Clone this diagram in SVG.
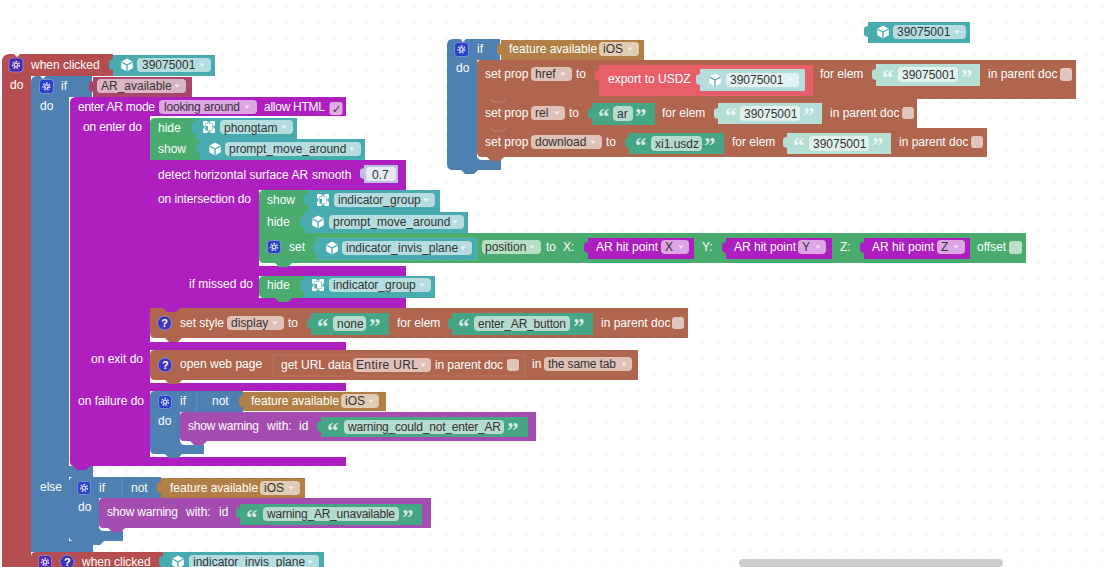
<svg xmlns="http://www.w3.org/2000/svg" width="1116" height="567" viewBox="0 0 1116 567">
<style>
text{font-family:"Liberation Sans",Arial,sans-serif;font-size:12px;fill:#fff}
text.d{fill:#333}
text.q{font-family:"Liberation Serif",serif;font-size:23px;font-weight:bold;fill:#fff;fill-opacity:.78;transform:translate(-1px,1px)}
text.ql{font-family:"Liberation Serif",serif;font-size:23px;font-weight:bold;fill:#fff;fill-opacity:.8;transform:translate(-1px,1px)}
text.qm{font-size:11px;font-weight:bold}
.red{fill:#b54e50}.teal{fill:#47abaf}.mag{fill:#a8466c}.blue{fill:#4e80b2}.pur{fill:#ad20bf}.grn{fill:#49ac6e}
.brn{fill:#b0654f}.gold{fill:#b27f46}.str{fill:#46a585}.lstr{fill:#b5dfd4}.lteal{fill:#b7dcdd}.warn{fill:#a44cb0}.exp{fill:#e85f69}.hit{fill:#ad20bf}
.f{fill:#fff;fill-opacity:.6}
.c{fill:#fff;fill-opacity:.62}
.a{fill:#fff;fill-opacity:.7}
.e{stroke:#fff;stroke-opacity:.1;stroke-width:1}
.wb{fill:#fff}
.gb{fill:#2a43c4;stroke:#8f97ea;stroke-width:.8}
.gp{fill:#4a2bab;stroke:#9a86dc;stroke-width:.8}
.qb{fill:#3d35b5;stroke:#9a94e0;stroke-width:.8}
</style>
<defs>
<pattern id="dots" width="16" height="16" patternUnits="userSpaceOnUse" x="5.7" y="-0.7"><circle cx="8" cy="8" r="0.8" fill="#d2d2d2"/></pattern>
<path id="tab" d="M1 0.500c-3-1-5 .5-5 2.500v5c0 2 2 3.500 5 2.500z"/>
<path id="nt" d="M0 0l4 4h9l4-4z"/>
<path id="ar" d="M-2.500-1.500h5l-2.500 3.500z"/>
<g id="gear"><circle r="1.800" fill="none" stroke="#dfe0fa" stroke-width="1.300"/><circle r="3.500" fill="none" stroke="#dfe0fa" stroke-width="1.300" stroke-dasharray="1.800 1.300"/></g>
<g id="cube"><path d="M0-6.500L5.800-3.200V3.200L0 6.500L-5.800 3.200V-3.200Z" fill="#fff"/><path d="M-5.500-3L0 0L5.500-3M0 0V6.500" fill="none" stroke="#47abaf" stroke-width="1.300"/></g>
<g id="grp"><rect x="-6" y="-6" width="12" height="12" fill="#fff"/><path d="M-3.500-3.500H3.500V3.500H-3.500Z" fill="#47abaf"/><path d="M-3-3H1V1H3V3H-3Z" fill="#fff" transform="rotate(180)"/><path d="M-6 0h1.500M6 0h-1.500M0-6v1.500M0 6v-1.500" stroke="#47abaf" stroke-width="3"/></g>
</defs>
<rect width="1116" height="567" fill="#fff"/>
<rect width="1116" height="567" fill="url(#dots)"/>

<g id="connectors"/>

<g id="block-when-clicked-main">
<path class="red" d="M2 62q0-8 8-8h4l3 3 3-3H113V76H31V567H2Z"/>
<rect class="gp" x="9" y="58" width="14" height="14" rx="3"/><use href="#gear" x="16" y="65"/>
<text x="31" y="69">when clicked</text>
<text x="10" y="89">do</text>
</g>
<g id="value-39075001-main">
<use href="#tab" x="113" y="59" class="teal"/><rect class="teal" x="113" y="55" width="102" height="21"/>
<use href="#cube" x="127" y="65"/><rect class="f" x="137" y="58" width="74" height="14" rx="4"/>
<text class="d" x="142" y="69">39075001</text><use href="#ar" x="202" y="65" class="a"/>
</g>

<g id="block-if-ar">
<path class="blue" d="M31 82q0-6 6-6h3l3 3 3-3H92V97H69V466H93V477H69V541H93V552H31Z"/>
<rect class="gb" x="39.500" y="79.500" width="14" height="14" rx="3"/><use href="#gear" x="46.500" y="86.500"/>
<text x="61" y="90">if</text><text x="40" y="110">do</text><text x="40" y="491">else</text>
</g>
<g id="value-ar-available">
<use href="#tab" x="93" y="81" class="mag"/><rect class="mag" x="93" y="77" width="99" height="20"/>
<rect class="f" x="97" y="79" width="89" height="14" rx="4"/><text class="d" x="101" y="90">AR_available</text><use href="#ar" x="177" y="86" class="a"/>
</g>

<g id="block-enter-ar">
<path class="pur" d="M70 103q0-6 6-6H346V116H150V342H346V350H150V383H346V391H150V457H346V466H90l-4 4h-9l-4-4H74q-4 0-4-4Z"/>
<text x="78" y="111" textLength="77">enter AR mode</text>
<rect class="f" x="159" y="100" width="98" height="14" rx="4"/><text class="d" x="164" y="111" textLength="76">looking around</text><use href="#ar" x="247" y="107" class="a"/>
<text x="264" y="111" textLength="61">allow HTML</text>
<rect class="c" x="329.500" y="102" width="13" height="13" rx="3"/><text class="d" x="332" y="113" style="font-size:11px">✓</text>
<text x="83" y="131" textLength="59">on enter do</text>
<text x="91" y="363">on exit do</text>
<text x="78" y="405">on failure do</text>
</g>

<g id="block-hide-phongtam">
<path class="grn" d="M150 123q0-5 5-5H195V139H150Z"/><text x="158" y="132">hide</text>
<use href="#tab" x="195" y="122" class="teal"/><rect class="teal" x="195" y="118" width="102" height="21"/>
<use href="#grp" x="209" y="127"/><rect class="f" x="220" y="120" width="73" height="14" rx="4"/>
<text class="d" x="224" y="132">phongtam</text><use href="#ar" x="284" y="127" class="a"/>
</g>
<g id="block-show-prompt">
<rect class="grn" x="150" y="139" width="50" height="21"/><text x="158" y="153">show</text>
<use href="#tab" x="200" y="143" class="teal"/><rect class="teal" x="200" y="139" width="165" height="21"/>
<use href="#cube" x="215" y="149"/><rect class="f" x="225" y="142" width="136" height="14" rx="4"/>
<text class="d" x="229" y="153">prompt_move_around</text><use href="#ar" x="352" y="149" class="a"/>
</g>

<g id="block-detect-surface">
<path class="pur" d="M150 160H406V190H259V266H406V276H259V298H406V308H150Z"/>
<text x="158" y="179">detect horizontal surface AR</text><text x="312" y="179">smooth</text>
<g fill="#bfc1e2"><use href="#tab" x="364" y="168"/><rect x="364" y="165" width="34" height="18"/></g>
<rect x="366" y="167" width="30" height="14" rx="3" fill="#e6e8f4"/><text class="d" x="372" y="179">0.7</text>
<text x="158" y="203" textLength="93">on intersection do</text>
<text x="189" y="288">if missed do</text>
</g>

<g id="block-show-indicator">
<path class="grn" d="M259 195q0-5 5-5H308V212H259Z"/><text x="267" y="204">show</text>
<use href="#tab" x="308" y="194" class="teal"/><rect class="teal" x="308" y="190" width="132" height="22"/>
<use href="#grp" x="323" y="200"/><rect class="f" x="334" y="193" width="101" height="14" rx="4"/>
<text class="d" x="338" y="204">indicator_group</text><use href="#ar" x="426" y="200" class="a"/>
</g>
<g id="block-hide-prompt">
<rect class="grn" x="259" y="212" width="45" height="21"/><text x="267" y="226">hide</text>
<use href="#tab" x="304" y="216" class="teal"/><rect class="teal" x="304" y="212" width="164" height="21"/>
<use href="#cube" x="318" y="222"/><rect class="f" x="329" y="215" width="135" height="14" rx="4"/>
<text class="d" x="333" y="226">prompt_move_around</text><use href="#ar" x="455" y="222" class="a"/>
</g>
<g id="block-set-position">
<path class="wb" d="M259 258v2q0 6 6 6H406V258Z"/>
<path class="grn" d="M259 233H1026V263H292l-4 4h-9l-4-4H264q-5 0-5-5Z"/>
<rect class="gb" x="267.500" y="240.500" width="13" height="13" rx="3"/><use href="#gear" x="274" y="247"/>
<text x="289" y="251">set</text>
<use href="#tab" x="317" y="242" class="teal"/><rect class="teal e" x="317" y="238" width="160" height="22"/>
<use href="#cube" x="332" y="248"/><rect class="f" x="342" y="241" width="130" height="14" rx="4"/>
<text class="d" x="346" y="252">indicator_invis_plane</text><use href="#ar" x="463" y="248" class="a"/>
<rect class="f" x="482" y="240" width="59" height="14" rx="4"/><text class="d" x="485" y="251">position</text><use href="#ar" x="532" y="247" class="a"/>
<text x="546" y="251">to</text><text x="563" y="251">X:</text>
<use href="#tab" x="588" y="242" class="hit"/><rect class="hit" x="588" y="238" width="106" height="21"/>
<text x="596" y="251" textLength="62">AR hit point</text><rect class="f" x="661" y="240" width="28" height="14" rx="4"/><text class="d" x="665" y="251">X</text><use href="#ar" x="681" y="247" class="a"/>
<text x="702" y="251">Y:</text>
<use href="#tab" x="726" y="242" class="hit"/><rect class="hit" x="726" y="238" width="106" height="21"/>
<text x="734" y="251" textLength="62">AR hit point</text><rect class="f" x="798" y="240" width="28" height="14" rx="4"/><text class="d" x="802" y="251">Y</text><use href="#ar" x="818" y="247" class="a"/>
<text x="840" y="251">Z:</text>
<use href="#tab" x="864" y="242" class="hit"/><rect class="hit" x="864" y="238" width="106" height="21"/>
<text x="872" y="251" textLength="62">AR hit point</text><rect class="f" x="937" y="240" width="28" height="14" rx="4"/><text class="d" x="941" y="251">Z</text><use href="#ar" x="956" y="247" class="a"/>
<text x="977" y="251">offset</text><rect class="c" x="1009" y="241" width="13" height="13" rx="3"/>
</g>
<g id="block-hide-indicator">
<path class="grn" d="M259 281q0-5 5-5H304V298H292l-4 4h-9l-4-4H264q-5 0-5-5Z"/><text x="267" y="289">hide</text>
<use href="#tab" x="304" y="280" class="teal"/><rect class="teal" x="304" y="276" width="131" height="22"/>
<use href="#grp" x="318" y="285"/><rect class="f" x="329" y="278" width="102" height="14" rx="4"/>
<text class="d" x="333" y="289">indicator_group</text><use href="#ar" x="422" y="285" class="a"/>
</g>

<g id="block-set-style">
<path class="wb" d="M150 332v4q0 6 6 6H346V332Z"/>
<path class="brn" d="M150 308H688V338H182l-4 4h-9l-4-4H155q-5 0-5-5Z"/>
<use href="#nt" x="163" y="308" class="pur"/>
<circle class="qb" cx="164.500" cy="323" r="7"/><text class="qm" x="161.300" y="327">?</text>
<text x="180" y="327">set style</text>
<rect class="f" x="227" y="316" width="57" height="14" rx="4"/><text class="d" x="231" y="327">display</text><use href="#ar" x="275" y="323" class="a"/>
<text x="288" y="327">to</text>
<use href="#tab" x="311" y="318" class="str"/><rect class="str" x="311" y="313" width="78" height="22"/>
<text class="q" x="318" y="333">“</text><rect class="f" x="333" y="316" width="33" height="15" rx="4"/><text class="d" x="337" y="328">none</text><text class="q" x="370" y="333">”</text>
<text x="397" y="327">for elem</text>
<use href="#tab" x="452" y="318" class="str"/><rect class="str" x="452" y="313" width="141" height="22"/>
<text class="q" x="459" y="333">“</text><rect class="f" x="474" y="316" width="96" height="15" rx="4"/><text class="d" x="478" y="328" textLength="88">enter_AR_button</text><text class="q" x="574" y="333">”</text>
<text x="601" y="327">in parent doc</text><rect class="c" x="672" y="317" width="12" height="12" rx="3"/>
</g>

<g id="block-open-web-page">
<path class="wb" d="M150 372v5q0 6 6 6H346V372Z"/>
<path class="brn" d="M155 350H638V380H182l-4 4h-9l-4-4H155q-5 0-5-5V355q0-5 5-5Z"/>
<circle class="qb" cx="165" cy="365" r="7"/><text class="qm" x="162" y="369">?</text>
<text x="180" y="368">open web page</text>
<use href="#tab" x="273" y="359" class="brn"/><rect class="brn e" x="273" y="355" width="252" height="21"/>
<text x="281" y="369">get URL data</text><rect class="f" x="353" y="358" width="78" height="14" rx="4"/><text class="d" x="356" y="369" textLength="62">Entire URL</text><use href="#ar" x="423" y="365" class="a"/>
<text x="435" y="369" textLength="68">in parent doc</text><rect class="c" x="507" y="359" width="12" height="12" rx="3"/>
<text x="532" y="368">in</text><rect class="f" x="544" y="357" width="88" height="14" rx="4"/><text class="d" x="548" y="368" textLength="68">the same tab</text><use href="#ar" x="624" y="364" class="a"/>
</g>

<g id="block-if-failure">
<path class="wb" d="M150 446v4q0 7 6 7H346V446Z"/>
<path class="blue" d="M155 391H243V412H180V441H204V454H182l-4 4h-9l-4-4H155q-5 0-5-5V396q0-5 5-5Z"/>
<rect class="gb" x="158.500" y="395.500" width="13" height="13" rx="3"/><use href="#gear" x="165" y="402"/>
<text x="180" y="405">if</text><text x="158" y="425">do</text>
<use href="#tab" x="197" y="396" class="blue"/><path d="M197 392v19" stroke="#fff" stroke-opacity=".18"/><text x="212" y="405">not</text>
<use href="#tab" x="243" y="396" class="gold"/><rect class="gold" x="243" y="392" width="143" height="19"/>
<text x="251" y="405">feature available</text><rect class="f" x="341" y="394" width="38" height="14" rx="4"/><text class="d" x="345" y="405">iOS</text><use href="#ar" x="371" y="401" class="a"/>
</g>
<g id="block-warning-enter">
<path class="wb" d="M180 434v6q0 5 5 5H204V434Z"/>
<path class="warn" d="M184 412H536V441H207l-4 4h-9l-4-4H184q-4 0-4-4V416q0-4 4-4Z"/>
<text x="188" y="430" textLength="71">show warning</text><text x="267" y="430">with:</text><text x="299" y="430">id</text>
<use href="#tab" x="321" y="421" class="str"/><rect class="str" x="321" y="417" width="207" height="20"/>
<text class="q" x="328" y="437">“</text><rect class="f" x="344" y="420" width="160" height="14" rx="4"/><text class="d" x="348" y="431" textLength="153">warning_could_not_enter_AR</text><text class="q" x="508" y="437">”</text>
</g>

<g id="block-if-else">
<path class="blue" d="M74 477H161V498H99V528H123V541H104l-4 4h-9l-4-4H74q-5 0-5-5V482q0-5 5-5Z"/>
<rect class="gb" x="77.500" y="481.500" width="13" height="13" rx="3"/><use href="#gear" x="84" y="488"/>
<text x="99" y="492">if</text><text x="78" y="511">do</text>
<use href="#tab" x="122" y="482" class="blue"/><path d="M122 478v20" stroke="#fff" stroke-opacity=".18"/><text x="131" y="492">not</text>
<use href="#tab" x="161" y="482" class="gold"/><rect class="gold" x="161" y="478" width="144" height="20"/>
<text x="170" y="492">feature available</text><rect class="f" x="260" y="481" width="40" height="14" rx="4"/><text class="d" x="264" y="492">iOS</text><use href="#ar" x="291" y="488" class="a"/>
</g>
<g id="block-warning-unavailable">
<path class="wb" d="M99 520v6q0 5 5 5H123V520Z"/>
<path class="warn" d="M103 498H431V528H125l-4 4h-9l-4-4H103q-4 0-4-4V502q0-4 4-4Z"/>
<text x="107" y="516" textLength="71">show warning</text><text x="186" y="516">with:</text><text x="219" y="516">id</text>
<use href="#tab" x="240" y="507" class="str"/><rect class="str" x="240" y="504" width="182" height="21"/>
<text class="q" x="247" y="524">“</text><rect class="f" x="263" y="507" width="136" height="14" rx="4"/><text class="d" x="267" y="518" textLength="128">warning_AR_unavailable</text><text class="q" x="403" y="524">”</text>
</g>

<g id="block-when-clicked-plane">
<path class="red" d="M36 552H163V567H31V557q0-5 5-5Z"/>
<rect class="gp" x="38.500" y="555.500" width="13" height="13" rx="3"/><use href="#gear" x="45" y="562"/>
<circle class="qb" cx="67" cy="562" r="7"/><text class="qm" x="64" y="566">?</text>
<text x="82" y="566">when clicked</text>
<use href="#tab" x="163" y="556" class="teal"/><rect class="teal" x="163" y="552" width="161" height="15"/>
<use href="#cube" x="178" y="562"/><rect class="f" x="189" y="555" width="130" height="14" rx="4"/>
<text class="d" x="193" y="566">indicator_invis_plane</text><use href="#ar" x="310" y="562" class="a"/>
</g>

<g id="block-if-ios">
<path class="blue" d="M453 39H460l3 3 3-3H500V60H477V157H501V170H478l-4 4h-9l-4-4H453q-6 0-6-6V45q0-6 6-6Z"/>
<rect class="gb" x="454.500" y="42.500" width="14" height="14" rx="3"/><use href="#gear" x="461.500" y="49.500"/>
<text x="477" y="53">if</text><text x="456" y="72">do</text>
<use href="#tab" x="501" y="44" class="gold"/><rect class="gold" x="501" y="40" width="143" height="20"/>
<text x="509" y="53">feature available</text><rect class="f" x="599" y="42" width="40" height="14" rx="4"/><text class="d" x="603" y="53">iOS</text><use href="#ar" x="630" y="49" class="a"/>
</g>

<g id="block-set-prop-href">
<path class="brn" d="M481 60H1076V99H477V64q0-4 4-4Z"/>
<text x="485" y="78">set prop</text>
<rect class="f" x="531" y="67" width="41" height="14" rx="4"/><text class="d" x="535" y="78">href</text><use href="#ar" x="563" y="74" class="a"/>
<text x="576" y="78">to</text>
<use href="#tab" x="599" y="70" class="exp"/><rect class="exp" x="599" y="65" width="214" height="31"/>
<text x="608" y="83">export to USDZ</text>
<use href="#tab" x="700" y="74" class="lteal"/><rect class="lteal" x="700" y="69" width="105" height="22"/>
<use href="#cube" x="715" y="80"/><rect class="f" x="726" y="73" width="73" height="14" rx="4"/>
<text class="d" x="730" y="84">39075001</text><use href="#ar" x="790" y="80" class="a"/>
<text x="820" y="78">for elem</text>
<use href="#tab" x="876" y="69" class="lstr"/><rect class="lstr" x="876" y="64" width="104" height="22"/>
<text class="ql" x="883" y="84">“</text><rect class="f" x="898" y="67" width="60" height="15" rx="4"/><text class="d" x="902" y="79">39075001</text><text class="ql" x="962" y="84">”</text>
<text x="988" y="78">in parent doc</text><rect class="c" x="1060" y="68" width="12" height="13" rx="3"/>
</g>
<g id="block-set-prop-rel">
<path class="brn" d="M477 99H917V128H477Z"/>
<path d="M490 99l4 3h8l4-3" fill="none" stroke="#fff" stroke-opacity=".2"/>
<text x="485" y="117">set prop</text>
<rect class="f" x="531" y="106" width="34" height="14" rx="4"/><text class="d" x="535" y="117">rel</text><use href="#ar" x="557" y="113" class="a"/>
<text x="569" y="117">to</text>
<use href="#tab" x="592" y="108" class="str"/><rect class="str" x="592" y="103" width="63" height="22"/>
<text class="q" x="599" y="123">“</text><rect class="f" x="613" y="106" width="20" height="15" rx="4"/><text class="d" x="617" y="118">ar</text><text class="q" x="636" y="123">”</text>
<text x="662" y="117">for elem</text>
<use href="#tab" x="718" y="108" class="lstr"/><rect class="lstr" x="718" y="103" width="104" height="21"/>
<text class="ql" x="726" y="122">“</text><rect class="f" x="740" y="106" width="60" height="15" rx="4"/><text class="d" x="744" y="118">39075001</text><text class="ql" x="804" y="122">”</text>
<text x="830" y="117">in parent doc</text><rect class="c" x="902" y="107" width="12" height="12" rx="3"/>
</g>
<g id="block-set-prop-download">
<path class="wb" d="M477 150v5q0 5 5 5H501V150Z"/>
<path class="brn" d="M477 128H987V157H504l-4 4h-9l-4-4H482q-5 0-5-5Z"/>
<path d="M490 128l4 3h8l4-3" fill="none" stroke="#fff" stroke-opacity=".2"/>
<text x="485" y="146">set prop</text>
<rect class="f" x="531" y="135" width="71" height="14" rx="4"/><text class="d" x="535" y="146">download</text><use href="#ar" x="593" y="142" class="a"/>
<text x="606" y="146">to</text>
<use href="#tab" x="629" y="137" class="str"/><rect class="str" x="629" y="133" width="95" height="21"/>
<text class="q" x="636" y="152">“</text><rect class="f" x="651" y="136" width="51" height="15" rx="4"/><text class="d" x="655" y="148">xi1.usdz</text><text class="q" x="705" y="152">”</text>
<text x="732" y="146">for elem</text>
<use href="#tab" x="787" y="137" class="lstr"/><rect class="lstr" x="787" y="133" width="104" height="21"/>
<text class="ql" x="794" y="152">“</text><rect class="f" x="809" y="136" width="60" height="15" rx="4"/><text class="d" x="813" y="148">39075001</text><text class="ql" x="873" y="152">”</text>
<text x="899" y="146">in parent doc</text><rect class="c" x="971" y="136" width="12" height="12" rx="3"/>
</g>

<g id="value-39075001-free">
<use href="#tab" x="868" y="26" class="teal"/><rect class="teal" x="868" y="22" width="102" height="21"/>
<use href="#cube" x="883" y="32"/><rect class="f" x="893" y="25" width="73" height="14" rx="4"/>
<text class="d" x="897" y="36">39075001</text><use href="#ar" x="957" y="32" class="a"/>
</g>

<rect id="scrollbar" x="739" y="559" width="264" height="8" rx="4" fill="#ccc"/>
</svg>
